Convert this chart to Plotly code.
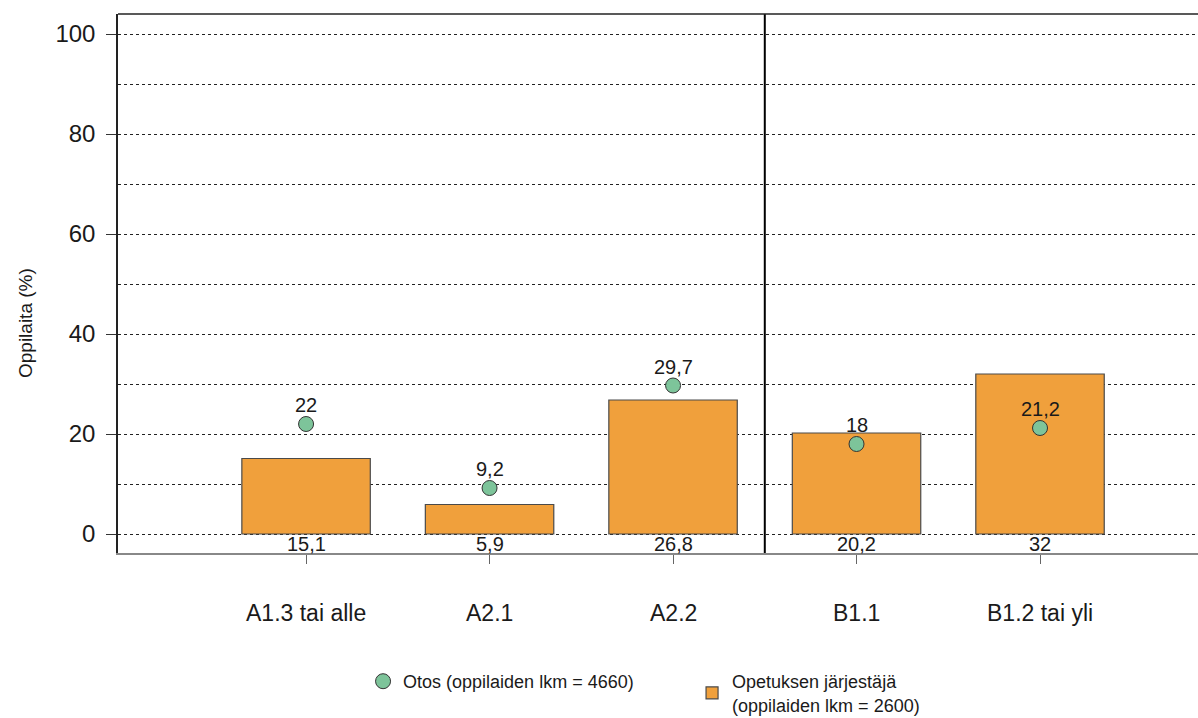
import plotly.graph_objects as go

categories = ["A1.3 tai alle", "A2.1", "A2.2", "B1.1", "B1.2 tai yli"]
bar_values = [15.1, 5.9, 26.8, 20.2, 32]
dot_values = [22, 9.2, 29.7, 18, 21.2]
y_ticks = [0, 20, 40, 60, 80, 100]
divider_after = 2.5
bar_name = "Opetuksen järjestäjä<br>(oppilaiden lkm = 2600)"
dot_name = "Otos (oppilaiden lkm = 4660)"
y_title = "Oppilaita (%)"

FONT = "Arial, Liberation Sans, sans-serif"
ORANGE = "#F0A03C"
GREEN = "#7DC49A"
TXT = "#1a1a1a"


def fmt(v):
    return ("%g" % v).replace(".", ",")


xs = list(range(len(categories)))

fig = go.Figure()
fig.add_trace(go.Scatter(
    x=xs, y=dot_values, mode="markers", name=dot_name,
    marker=dict(symbol="circle", size=15, color=GREEN, line=dict(color="#333333", width=1)),
    hoverinfo="skip",
))
fig.add_trace(go.Bar(
    x=xs, y=bar_values, name=bar_name, width=0.7,
    marker=dict(color=ORANGE, line=dict(color="#4a4a4a", width=1.2)),
    hoverinfo="skip",
))

annotations = []
for x, v in zip(xs, dot_values):
    annotations.append(dict(x=x, y=v, xref="x", yref="y", text=fmt(v), showarrow=False,
                            yanchor="bottom", yshift=6, font=dict(family=FONT, size=20, color=TXT)))
for x, v in zip(xs, bar_values):
    annotations.append(dict(x=x, y=0, xref="x", yref="y", text=fmt(v), showarrow=False,
                            yanchor="top", yshift=3, font=dict(family=FONT, size=20, color=TXT)))
for x, c in zip(xs, categories):
    annotations.append(dict(x=x, y=0, xref="x", yref="paper", text=c, showarrow=False,
                            yanchor="top", yshift=-45, font=dict(family=FONT, size=23, color=TXT)))
annotations.append(dict(x=-0.0861, y=0.4267, xref="paper", yref="paper", text=y_title,
                        textangle=-90, showarrow=False, xanchor="center", yanchor="middle",
                        font=dict(family=FONT, size=19, color=TXT)))

shapes = [
    dict(type="line", xref="x", yref="paper", x0=divider_after, x1=divider_after, y0=0, y1=1,
         line=dict(color="black", width=2)),
    dict(type="line", xref="paper", yref="paper", x0=0, x1=1, y0=1, y1=1,
         line=dict(color="#222222", width=1.5)),
]

fig.update_layout(
    width=1198, height=718,
    margin=dict(l=118, r=0, t=14, b=165, autoexpand=False),
    plot_bgcolor="white", paper_bgcolor="white",
    font=dict(family=FONT, color=TXT),
    showlegend=True,
    legend=dict(orientation="h", x=0.2269, xanchor="left", y=-0.2041, yanchor="top",
                font=dict(family=FONT, size=18, color=TXT), traceorder="normal",
                itemwidth=30, tracegroupgap=0, entrywidth=284, entrywidthmode="pixels"),
    annotations=annotations,
    shapes=shapes,
)
fig.update_xaxes(
    range=[-1.025, 4.861], tickvals=xs, ticktext=[""] * len(xs),
    showline=True, linecolor="#888888", linewidth=1.5,
    ticks="outside", ticklen=9, tickcolor="#666666", tickwidth=1.2,
    showgrid=False, zeroline=False,
)
fig.update_yaxes(
    range=[-3.8, 104], tickvals=y_ticks,
    showline=True, linecolor="#222222", linewidth=1.5,
    ticks="outside", ticklen=10, tickcolor="#333333", tickwidth=1.2,
    tickfont=dict(family=FONT, size=24, color=TXT), ticklabelstandoff=6,
    showgrid=True, gridcolor="#222222", griddash="dot", gridwidth=1,
    minor=dict(dtick=10, tick0=0, showgrid=True, gridcolor="#222222", griddash="dot", gridwidth=1, ticks=""),
    zeroline=False,
)

fig.write_html("out.html", config={"displayModeBar": False},
               post_script="document.body.style.margin='0';document.body.style.overflow='hidden';")
